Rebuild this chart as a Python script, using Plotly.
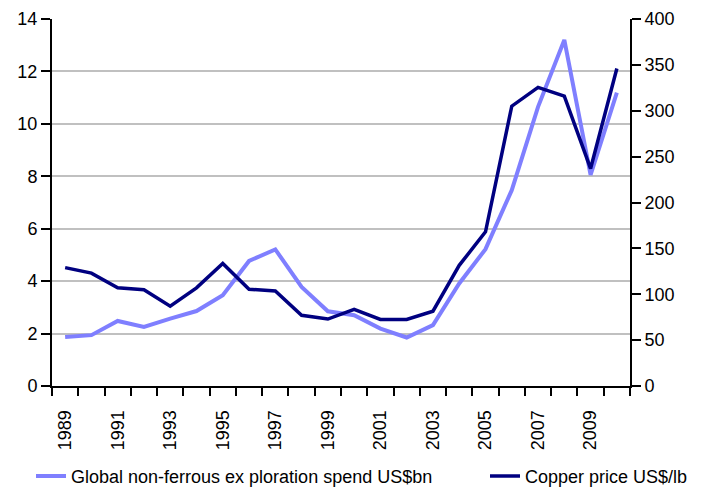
import plotly.graph_objects as go

years = list(range(1989, 2011))
exploration_spend = [1.87, 1.94, 2.48, 2.25, 2.57, 2.86, 3.46, 4.77, 5.21, 3.78, 2.85,
                     2.70, 2.19, 1.85, 2.32, 3.91, 5.22, 7.47, 10.65, 13.2, 8.05, 11.19]
copper_price = [129, 123, 107, 105, 87, 107, 133.5, 105.5, 103.5, 77, 73,
                83.5, 72.5, 72.5, 81.5, 131.5, 168, 305, 325.5, 316, 237, 346]
year_labels = [str(y) for y in range(1989, 2011, 2)]
left_ticks = list(range(0, 15, 2))
right_ticks = list(range(0, 401, 50))

FONT = "Liberation Sans, Arial, sans-serif"
LIGHT = "#7F7FFF"
DARK = "#000080"

fig = go.Figure()
fig.add_trace(go.Scatter(
    x=years, y=exploration_spend, mode="lines",
    name="Global non-ferrous ex ploration spend US$bn",
    line=dict(color=LIGHT, width=4), yaxis="y", legend="legend"))
fig.add_trace(go.Scatter(
    x=years, y=copper_price, mode="lines",
    name="Copper price US$/lb",
    line=dict(color=DARK, width=3.5), yaxis="y2", legend="legend2"))

legend_common = dict(
    orientation="h", xref="container", yref="container",
    y=0.03, xanchor="left", yanchor="middle",
    font=dict(size=18), itemwidth=30, bgcolor="rgba(0,0,0,0)",
)

fig.update_layout(
    width=706, height=491,
    margin=dict(l=52, r=76, t=19, b=105, autoexpand=False),
    paper_bgcolor="white", plot_bgcolor="white",
    font=dict(family=FONT, size=18, color="black"),
    xaxis=dict(
        range=[1988.5, 2010.5], tickmode="array",
        tickvals=list(range(1989, 2011, 2)), ticktext=year_labels,
        tickangle=-90, ticks="", showgrid=False, zeroline=False,
        showline=True, linecolor="black", linewidth=2,
        tickfont=dict(size=18), ticklabelstandoff=15,
        minor=dict(tickmode="array",
                   tickvals=[y + 0.5 for y in range(1988, 2011)],
                   ticks="outside", ticklen=8, tickwidth=2,
                   tickcolor="black", showgrid=False),
    ),
    yaxis=dict(
        range=[0, 14], tickmode="array", tickvals=left_ticks,
        ticks="outside", ticklen=9, tickwidth=2, tickcolor="black",
        showline=True, linecolor="black", linewidth=2,
        showgrid=True, gridcolor="#C0C0C0", gridwidth=1.5,
        zeroline=False, tickfont=dict(size=18),
    ),
    yaxis2=dict(
        range=[0, 400], tickmode="array", tickvals=right_ticks,
        overlaying="y", side="right",
        ticks="outside", ticklen=9, tickwidth=2, tickcolor="black",
        showline=True, linecolor="black", linewidth=2,
        showgrid=False, zeroline=False, tickfont=dict(size=18),
    ),
    legend=dict(legend_common, x=31 / 706),
    legend2=dict(legend_common, x=485 / 706),
    showlegend=True,
)

fig.write_html("out.html")
